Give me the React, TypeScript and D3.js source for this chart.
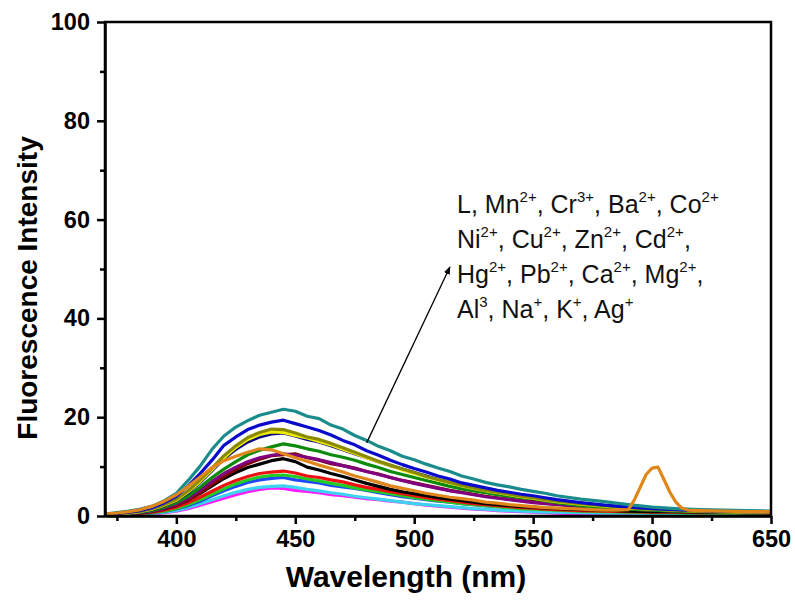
import React, { useEffect, useRef } from "react";
import * as d3 from "d3";

// emission spectra (nm / a.u.)
const wavelengths = [
  370, 375, 380, 385, 390, 395, 400, 405, 410, 415, 420, 425, 430, 435, 440, 445, 450, 455, 460, 465,
  470, 475, 480, 485, 490, 495, 500, 505, 510, 515, 520, 525, 530, 535, 540, 545, 550, 555, 560,
  570, 580, 590, 600, 610, 620, 630, 640, 650,
];
// orange trace has a sharp band at ~600 nm, so it is sampled finer there
const peakWavelengths = [570, 580, 585, 590, 592.5, 595, 597.5, 600, 602.5, 605, 607.5, 610, 612.5, 615, 620, 630, 640, 650];
const orangeWavelengths = [...wavelengths.slice(0, 39), ...peakWavelengths];

const teal = [0.4, 0.7, 1.0, 1.4, 2.0, 3.1, 4.6, 7.2, 10.1, 13.5, 16.2, 18.0, 19.3, 20.4, 21.0, 21.6, 21.2, 20.2, 19.7, 18.4, 17.6, 16.3, 15.3, 14.1, 13.2, 12.1, 11.4, 10.5, 9.7, 9.0, 8.1, 7.5, 6.8, 6.3, 5.9, 5.4, 5.0, 4.6, 4.1, 3.4, 2.9, 2.3, 1.8, 1.5, 1.3, 1.2, 1.1, 1.0];
const blue = [0.3, 0.5, 0.8, 1.1, 1.7, 2.7, 4.0, 6.1, 8.6, 11.3, 14.3, 16.0, 17.5, 18.4, 19.0, 19.4, 18.7, 18.0, 17.3, 16.4, 15.3, 14.4, 13.2, 12.3, 11.3, 10.4, 9.6, 8.9, 8.1, 7.5, 6.7, 6.2, 5.7, 5.2, 4.8, 4.4, 4.1, 3.7, 3.3, 2.7, 2.2, 1.8, 1.5, 1.3, 1.1, 1.0, 0.9, 0.9];
const olive = [0.3, 0.5, 0.7, 1.0, 1.5, 2.3, 3.4, 5.1, 7.3, 9.7, 12.2, 14.2, 15.9, 16.9, 17.6, 17.5, 16.8, 16.0, 15.5, 14.7, 13.8, 12.9, 12.0, 11.1, 10.3, 9.5, 8.8, 8.0, 7.4, 6.8, 6.2, 5.7, 5.2, 4.8, 4.4, 4.0, 3.7, 3.3, 3.0, 2.5, 2.1, 1.7, 1.4, 1.2, 1.0, 0.9, 0.9, 0.8];
const yellow = [0.2, 0.4, 0.6, 0.9, 1.4, 2.2, 3.2, 4.9, 7.0, 9.4, 11.8, 13.9, 15.5, 16.5, 17.0, 16.9, 16.3, 15.8, 15.1, 14.4, 13.5, 12.7, 11.8, 11.0, 10.2, 9.3, 8.6, 7.9, 7.3, 6.7, 6.1, 5.6, 5.1, 4.7, 4.3, 3.9, 3.6, 3.2, 2.9, 2.4, 2.0, 1.6, 1.4, 1.2, 1.0, 0.9, 0.8, 0.8];
const navy = [0.3, 0.4, 0.6, 0.9, 1.3, 2.1, 3.1, 4.7, 6.8, 9.2, 11.6, 13.5, 15.0, 16.0, 16.6, 16.8, 16.2, 15.5, 15.0, 14.2, 13.4, 12.6, 11.8, 11.0, 10.2, 9.5, 8.8, 8.1, 7.4, 6.8, 6.2, 5.7, 5.2, 4.8, 4.4, 4.0, 3.7, 3.3, 3.0, 2.5, 2.1, 1.8, 1.5, 1.3, 1.1, 1.0, 0.9, 0.9];
const green = [0.2, 0.3, 0.5, 0.8, 1.1, 1.8, 2.7, 4.0, 5.8, 7.8, 9.5, 11.0, 12.4, 13.3, 14.0, 14.6, 14.2, 13.6, 13.1, 12.4, 11.9, 11.3, 10.5, 9.8, 9.0, 8.4, 7.8, 7.2, 6.6, 6.0, 5.5, 5.1, 4.7, 4.3, 4.0, 3.7, 3.5, 3.1, 2.7, 2.1, 1.6, 1.4, 1.2, 1.0, 0.9, 0.8, 0.8, 0.7];
const purple = [0.2, 0.3, 0.5, 0.7, 1.0, 1.6, 2.4, 3.6, 5.2, 7.0, 8.6, 9.9, 11.0, 11.8, 12.3, 12.6, 12.3, 11.9, 11.4, 10.8, 10.2, 9.6, 9.0, 8.4, 7.8, 7.2, 6.6, 6.1, 5.6, 5.1, 4.7, 4.3, 3.9, 3.6, 3.3, 3.0, 2.7, 2.5, 2.3, 1.9, 1.6, 1.4, 1.2, 1.0, 0.9, 0.8, 0.8, 0.7];
const maroon = [0.2, 0.3, 0.4, 0.6, 0.9, 1.4, 2.1, 3.2, 4.7, 6.4, 8.0, 9.4, 10.6, 11.5, 12.2, 12.4, 12.6, 11.8, 11.3, 10.6, 10.2, 9.7, 9.0, 8.5, 7.8, 7.2, 6.7, 6.2, 5.7, 5.2, 4.8, 4.4, 4.0, 3.7, 3.4, 3.1, 2.9, 2.6, 2.4, 2.0, 1.7, 1.4, 1.2, 1.1, 1.0, 0.9, 0.8, 0.8];
const black = [0.3, 0.4, 0.6, 0.7, 1.0, 1.5, 2.2, 3.3, 4.6, 6.1, 7.6, 8.8, 9.8, 10.5, 11.2, 11.6, 11.0, 9.9, 9.3, 8.6, 8.0, 7.3, 6.6, 6.0, 5.4, 4.9, 4.5, 4.1, 3.7, 3.4, 3.1, 2.8, 2.5, 2.3, 2.1, 1.9, 1.8, 1.6, 1.5, 1.3, 1.2, 1.0, 0.9, 0.9, 0.8, 0.8, 0.7, 0.7];
const red = [0.2, 0.3, 0.4, 0.6, 0.8, 1.2, 1.8, 2.7, 3.8, 5.0, 6.2, 7.2, 8.0, 8.6, 8.9, 9.1, 8.7, 8.1, 7.8, 7.3, 6.9, 6.3, 5.8, 5.4, 4.9, 4.5, 4.1, 3.7, 3.4, 3.1, 2.8, 2.5, 2.3, 2.1, 1.9, 1.7, 1.6, 1.4, 1.3, 1.1, 1.0, 0.9, 0.8, 0.8, 0.7, 0.7, 0.7, 0.6];
const lime = [0.2, 0.3, 0.4, 0.5, 0.7, 1.0, 1.5, 2.3, 3.3, 4.4, 5.5, 6.5, 7.3, 7.9, 8.2, 8.3, 8.0, 7.5, 7.1, 6.6, 6.2, 5.7, 5.3, 4.9, 4.5, 4.1, 3.7, 3.4, 3.1, 2.8, 2.5, 2.3, 2.1, 1.9, 1.7, 1.5, 1.4, 1.3, 1.2, 1.0, 0.9, 0.8, 0.7, 0.7, 0.6, 0.6, 0.6, 0.6];
const brightBlue = [0.2, 0.3, 0.3, 0.5, 0.7, 1.0, 1.4, 2.1, 3.0, 4.1, 5.1, 6.0, 6.8, 7.3, 7.6, 7.8, 7.3, 7.0, 6.7, 6.2, 5.9, 5.6, 5.2, 4.7, 4.3, 3.9, 3.6, 3.3, 3.0, 2.8, 2.5, 2.3, 2.1, 1.9, 1.8, 1.6, 1.5, 1.4, 1.3, 1.1, 1.0, 0.9, 0.8, 0.8, 0.7, 0.7, 0.6, 0.6];
const cyan = [0.1, 0.2, 0.3, 0.4, 0.5, 0.8, 1.1, 1.7, 2.5, 3.3, 4.1, 4.8, 5.4, 5.8, 6.0, 6.1, 5.8, 5.4, 5.1, 4.7, 4.4, 4.0, 3.7, 3.4, 3.1, 2.8, 2.5, 2.3, 2.1, 1.9, 1.7, 1.5, 1.4, 1.2, 1.1, 1.0, 0.9, 0.8, 0.8, 0.7, 0.6, 0.6, 0.5, 0.5, 0.5, 0.5, 0.5, 0.5];
const magenta = [0.1, 0.1, 0.2, 0.3, 0.4, 0.7, 1.0, 1.5, 2.2, 2.9, 3.6, 4.3, 4.9, 5.4, 5.7, 5.6, 5.2, 5.0, 4.7, 4.3, 4.1, 3.8, 3.5, 3.3, 3.0, 2.8, 2.5, 2.2, 2.0, 1.8, 1.6, 1.4, 1.3, 1.1, 1.0, 0.9, 0.8, 0.7, 0.6, 0.5, 0.4, 0.4, 0.4, 0.4, 0.4, 0.4, 0.4, 0.4];
const orange = [0.4, 0.6, 0.9, 1.3, 2.0, 3.0, 4.3, 6.0, 7.9, 9.8, 11.2, 12.1, 12.9, 13.6, 13.4, 12.6, 11.8, 11.1, 10.3, 9.6, 8.9, 8.1, 7.5, 6.8, 6.1, 5.6, 5.1, 4.6, 4.2, 3.8, 3.5, 3.2, 2.8, 2.6, 2.3, 2.1, 1.9, 1.7, 1.6, 1.4, 1.2, 1.2, 1.3, 3.2, 5.8, 8.4, 9.7, 9.9, 7.4, 4.8, 2.8, 1.6, 1.2, 1.1, 1.0, 0.9, 0.9];

const series = [
  { color: "#ff1aff", xs: wavelengths, ys: magenta },
  { color: "#3cd2f0", xs: wavelengths, ys: cyan },
  { color: "#1e46ff", xs: wavelengths, ys: brightBlue },
  { color: "#22cc22", xs: wavelengths, ys: lime },
  { color: "#ee1111", xs: wavelengths, ys: red },
  { color: "#000000", xs: wavelengths, ys: black },
  { color: "#820000", xs: wavelengths, ys: maroon },
  { color: "#800080", xs: wavelengths, ys: purple },
  { color: "#0b8a0b", xs: wavelengths, ys: green },
  { color: "#0a0a80", xs: wavelengths, ys: navy },
  { color: "#eeee00", xs: wavelengths, ys: yellow },
  { color: "#8a8a00", xs: wavelengths, ys: olive },
  { color: "#0a0acc", xs: wavelengths, ys: blue },
  { color: "#1a8c8c", xs: wavelengths, ys: teal },
  { color: "#e0861a", xs: orangeWavelengths, ys: orange },
];

const xTicks = [400, 450, 500, 550, 600, 650];
const xMinorTicks = [375, 425, 475, 525, 575, 625];
const yTicks = [0, 20, 40, 60, 80, 100];
const yMinorTicks = [10, 30, 50, 70, 90];

// [base, superscript]
const legendLines = [
  [["L", ""], ["Mn", "2+"], ["Cr", "3+"], ["Ba", "2+"], ["Co", "2+"]],
  [["Ni", "2+"], ["Cu", "2+"], ["Zn", "2+"], ["Cd", "2+"]],
  [["Hg", "2+"], ["Pb", "2+"], ["Ca", "2+"], ["Mg", "2+"]],
  [["Al", "3"], ["Na", "+"], ["K", "+"], ["Ag", "+"]],
];
const trailingComma = [false, true, true, false];
// arrow from the spectra up to the label, in data units
const arrowFrom = [480, 14.8];
const arrowTo = [515, 50.4];

const FONT = "'Liberation Sans', Arial, Helvetica, sans-serif";

export default function App() {
  const ref = useRef<SVGSVGElement>(null);

  useEffect(() => {
    const svg = d3.select(ref.current);
    svg.selectAll("*").remove();
    const width = 795;
    const height = 605;
    const margin = { top: 22, left: 105, bottom: 89, right: 24 };

    const x = d3.scaleLinear().domain([370, 650]).range([margin.left, width - margin.right]);
    const y = d3.scaleLinear().domain([0, 100]).range([height - margin.bottom, margin.top]);

    const defs = svg.append("defs");
    defs.append("clipPath").attr("id", "plot")
      .append("rect")
      .attr("x", margin.left).attr("y", margin.top)
      .attr("width", width - margin.left - margin.right)
      .attr("height", height - margin.top - margin.bottom);

    const line = d3.line<[number, number]>().x(d => x(d[0])).y(d => y(d[1]));

    const g = svg.append("g").attr("clip-path", "url(#plot)");
    series.forEach(s => {
      const pts: [number, number][] = s.xs.map((w, i) => [w, s.ys[i]]);
      g.append("path")
        .attr("d", line(pts))
        .attr("fill", "none")
        .attr("stroke", s.color)
        .attr("stroke-width", 3.2)
        .attr("stroke-linejoin", "round");
    });

    // axes
    const xAxis = svg.append("g").attr("transform", `translate(0,${y(0)})`)
      .call(d3.axisBottom(x).tickValues(xTicks).tickSize(8).tickSizeOuter(0).tickPadding(6).tickFormat(d3.format("d")));
    svg.append("g").attr("transform", `translate(0,${y(0)})`)
      .call(d3.axisBottom(x).tickValues(xMinorTicks).tickSize(5).tickSizeOuter(0).tickFormat(() => ""))
      .call(a => a.select(".domain").remove())
      .selectAll("line").attr("stroke-width", 2.5);
    const yAxis = svg.append("g").attr("transform", `translate(${x(370)},0)`)
      .call(d3.axisLeft(y).tickValues(yTicks).tickSize(8).tickSizeOuter(0).tickPadding(7));
    svg.append("g").attr("transform", `translate(${x(370)},0)`)
      .call(d3.axisLeft(y).tickValues(yMinorTicks).tickSize(5).tickSizeOuter(0).tickFormat(() => ""))
      .call(a => a.select(".domain").remove())
      .selectAll("line").attr("stroke-width", 2.5);

    [xAxis, yAxis].forEach(a => {
      a.selectAll("line").attr("stroke-width", 2.5);
      a.select(".domain").attr("stroke-width", 2.5);
      a.selectAll("text")
        .attr("font-family", FONT)
        .attr("font-weight", "bold")
        .attr("font-size", 23.5)
        .attr("fill", "#000");
    });

    // frame
    svg.append("rect")
      .attr("x", x(370)).attr("y", y(100))
      .attr("width", x(650) - x(370)).attr("height", y(0) - y(100))
      .attr("fill", "none").attr("stroke", "#000").attr("stroke-width", 2.5);

    svg.append("text")
      .attr("x", 406).attr("y", 587)
      .attr("text-anchor", "middle")
      .attr("font-family", FONT).attr("font-weight", "bold").attr("font-size", 30)
      .text("Wavelength (nm)");

    svg.append("text")
      .attr("transform", `translate(37,288) rotate(-90)`)
      .attr("text-anchor", "middle")
      .attr("font-family", FONT).attr("font-weight", "bold").attr("font-size", 28)
      .text("Fluorescence Intensity");

    // arrow
    defs.append("marker")
      .attr("id", "arrowhead")
      .attr("viewBox", "0 0 10 10").attr("refX", 9).attr("refY", 5)
      .attr("markerWidth", 8).attr("markerHeight", 8)
      .attr("markerUnits", "userSpaceOnUse")
      .attr("orient", "auto")
      .append("path").attr("d", "M0,1 L10,5 L0,9 Z").attr("fill", "#000");
    svg.append("line")
      .attr("x1", x(arrowFrom[0])).attr("y1", y(arrowFrom[1]))
      .attr("x2", x(arrowTo[0])).attr("y2", y(arrowTo[1]))
      .attr("stroke", "#000").attr("stroke-width", 1.3)
      .attr("marker-end", "url(#arrowhead)");

    // ion list with superscript charges
    legendLines.forEach((parts, li) => {
      const t = svg.append("text")
        .attr("x", 457).attr("y", 213 + li * 35)
        .attr("font-family", FONT).attr("font-size", 25).attr("fill", "#111");
      parts.forEach((p, pi) => {
        const last = pi === parts.length - 1;
        const sep = last ? (trailingComma[li] ? "," : "") : ", ";
        t.append("tspan").text(p[0]);
        if (p[1]) {
          t.append("tspan").attr("font-size", 15).attr("dy", -11).text(p[1]);
          if (sep) t.append("tspan").attr("dy", 11).text(sep);
        } else if (sep) {
          t.append("tspan").text(sep);
        }
      });
    });
  }, []);

  return (
    <svg ref={ref} width={795} height={605} style={{ position: "absolute", left: 0, top: 0, background: "#fff" }} />
  );
}
